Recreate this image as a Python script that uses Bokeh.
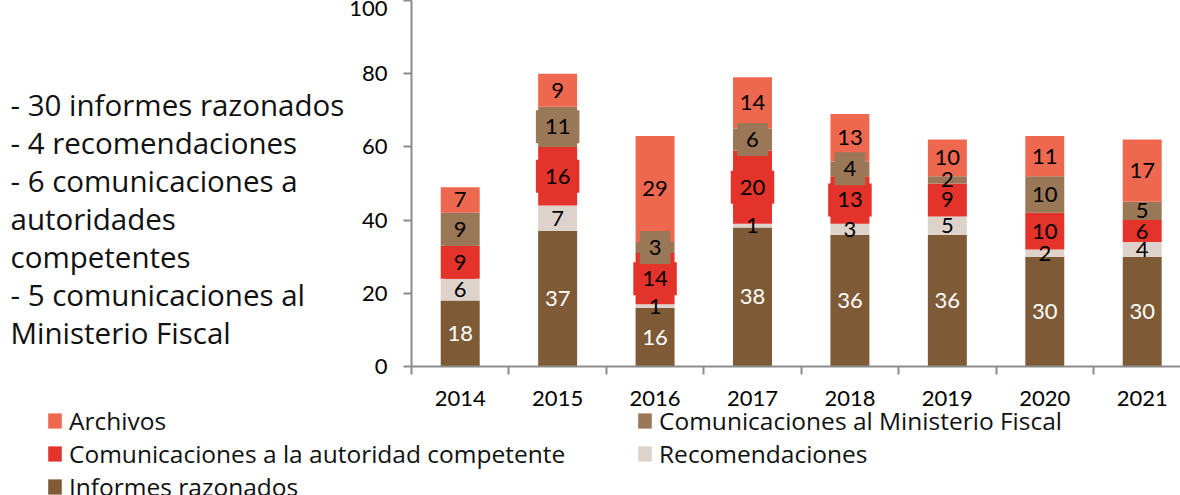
from bokeh.plotting import figure
from bokeh.layouts import row, column
from bokeh.models import ColumnDataSource, FixedTicker, Legend, LegendItem, Label, Range1d
from bokeh.core.properties import value
from bokeh.embed import file_html
from bokeh.resources import INLINE

# ---------------- data ----------------
years = ["2014", "2015", "2016", "2017", "2018", "2019", "2020", "2021"]
informes = [18, 37, 16, 38, 36, 36, 30, 30]
recomendaciones = [6, 7, 1, 1, 3, 5, 2, 4]
autoridad = [9, 16, 14, 20, 13, 9, 10, 6]
ministerio = [9, 11, 3, 6, 4, 2, 10, 5]
archivos = [7, 9, 29, 14, 13, 10, 11, 17]

series_names = ["Informes razonados", "Recomendaciones",
                "Comunicaciones a la autoridad competente",
                "Comunicaciones al Ministerio Fiscal", "Archivos"]
series_values = [informes, recomendaciones, autoridad, ministerio, archivos]
y_ticks = [0, 20, 40, 60, 80, 100]
notes = ["- 30 informes razonados", "- 4 recomendaciones", "- 6 comunicaciones a",
         "autoridades", "competentes", "- 5 comunicaciones al", "Ministerio Fiscal"]
boxed_years = ["2014", "2015", "2016", "2017", "2018"]

# ---------------- style ----------------
colors = ["#7f5a37", "#ded3ca", "#e4332a", "#9a7757", "#ee6850"]
label_colors = ["white", "black", "black", "black", "black"]
boxed_series = [False, False, True, True, False]
axis_color = "#8c8c8c"
NUM_FONT = "Lato"
TXT_FONT = "Open Sans"

TOP_H = 409          # height of the chart row
NOTES_W = 346        # width of the side-notes panel
MAIN_W = 1180 - NOTES_W
FL, FB = 411 - NOTES_W, 43
FRAME_H = TOP_H - FB

# ---------------- side notes ----------------
pn = figure(width=NOTES_W, height=TOP_H, x_range=Range1d(0, NOTES_W), y_range=Range1d(FRAME_H, 0),
            x_axis_type=None, y_axis_type=None, output_backend="svg", toolbar_location=None,
            min_border_left=0, min_border_right=0, min_border_top=0, min_border_bottom=FB)
pn.outline_line_color = None
pn.grid.visible = False
for i, t in enumerate(notes):
    pn.add_layout(Label(x=10, y=103.5 + i * 38.1, text=t, text_font=TXT_FONT,
                        text_font_size="29.5px", text_color="#111111",
                        text_baseline="middle", text_align="left"))

# ---------------- main chart ----------------
xs = list(range(len(years)))
p = figure(width=MAIN_W, height=TOP_H, x_range=Range1d(-0.5, 7.393), y_range=Range1d(0, 100),
           output_backend="svg", toolbar_location=None,
           min_border_left=FL, min_border_right=0, min_border_top=0, min_border_bottom=FB)
p.outline_line_color = None
p.grid.visible = False

bottoms = [0] * len(years)
label_sets = []
for name, vals, col, lc, boxed in zip(series_names, series_values, colors, label_colors, boxed_series):
    tops = [b + v for b, v in zip(bottoms, vals)]
    src = ColumnDataSource(dict(x=xs, bottom=bottoms, top=tops,
                                mid=[(b + t) / 2 for b, t in zip(bottoms, tops)],
                                txt=[str(v) for v in vals], year=years))
    p.vbar(x="x", bottom="bottom", top="top", width=0.4, source=src,
           fill_color=col, line_color=None)
    label_sets.append((src, col, lc, boxed))
    bottoms = tops

for src, col, lc, boxed in label_sets:
    d = src.data
    common = dict(x="x", y="mid", text="txt", text_align="center", text_baseline="middle",
                  text_font=value(NUM_FONT), text_font_size="22px", text_color=lc)
    if boxed:
        idx_b = [i for i, y in enumerate(years) if y in boxed_years]
        idx_n = [i for i, y in enumerate(years) if y not in boxed_years]
        sb = ColumnDataSource({k: [d[k][i] for i in idx_b] for k in d})
        sn = ColumnDataSource({k: [d[k][i] for i in idx_n] for k in d})
        p.text(source=sb, background_fill_color=col, padding=9, **common)
        p.text(source=sn, **common)
    else:
        p.text(source=src, **common)

p.yaxis.ticker = FixedTicker(ticks=y_ticks)
p.yaxis.major_tick_out = 8
p.yaxis.major_tick_in = 0
p.yaxis.minor_tick_line_color = None
p.yaxis.axis_line_color = axis_color
p.yaxis.axis_line_width = 2
p.yaxis.major_tick_line_color = axis_color
p.yaxis.major_tick_line_width = 2
p.yaxis.major_label_text_font = NUM_FONT
p.yaxis.major_label_text_font_size = "22px"
p.yaxis.major_label_text_color = "black"
p.yaxis.major_label_standoff = 16

p.xaxis.ticker = FixedTicker(ticks=xs, minor_ticks=[i - 0.5 for i in range(len(years) + 1)])
p.xaxis.major_label_overrides = {i: y for i, y in enumerate(years)}
p.xaxis.major_tick_out = 0
p.xaxis.major_tick_in = 0
p.xaxis.minor_tick_out = 8
p.xaxis.minor_tick_in = 0
p.xaxis.minor_tick_line_color = axis_color
p.xaxis.minor_tick_line_width = 2
p.xaxis.axis_line_color = axis_color
p.xaxis.axis_line_width = 2
p.xaxis.major_label_text_font = NUM_FONT
p.xaxis.major_label_text_font_size = "22px"
p.xaxis.major_label_text_color = "black"
p.xaxis.major_label_standoff = 16

# ---------------- legend strip ----------------
LEG_H = 495 - TOP_H
pl = figure(width=1180, height=LEG_H, x_range=Range1d(0, 1), y_range=Range1d(0, 1),
            x_axis_type=None, y_axis_type=None, output_backend="svg", toolbar_location=None,
            min_border=0)
pl.outline_line_color = None
pl.grid.visible = False
swatches = {}
for name, col in zip(series_names, colors):
    # zero-height swatch renderers, used only for the legend icons
    swatches[name] = pl.vbar(x=[0], bottom=[0], top=[0], width=0.4, fill_color=col, line_color=None)
order = [4, 3, 2, 1, 0]   # row-major: two columns
items = [LegendItem(label=series_names[i], renderers=[swatches[series_names[i]]]) for i in order]
legend = Legend(items=items, location=(46, -7.5), orientation="horizontal", ncols=2,
                margin=0, padding=0, spacing=0, glyph_width=17, glyph_height=19,
                label_standoff=6, label_width=567, label_text_font=TXT_FONT,
                label_text_font_size="24.5px", label_text_color="#111111",
                border_line_color=None, background_fill_alpha=0)
pl.add_layout(legend, "center")

layout = column(row(pn, p, spacing=0), pl, spacing=0)
open("out.html", "w").write(file_html(layout, INLINE))
